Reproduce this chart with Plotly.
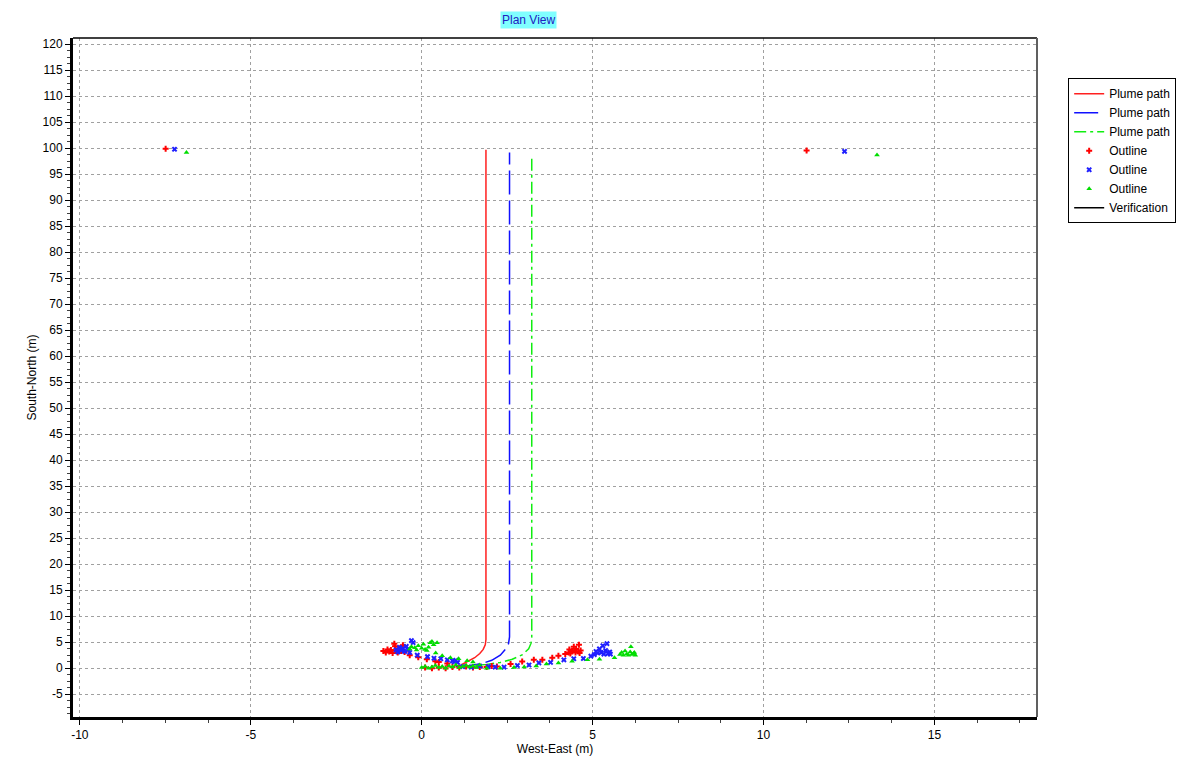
import plotly.graph_objects as go

# Plume centre-line paths (West-East, South-North) in metres
path_red_x = [1.15, 1.38, 1.55, 1.70, 1.80, 1.86, 1.88, 1.88]
path_red_y = [0.6, 1.35, 2.0, 2.8, 3.6, 4.5, 5.5, 99.7]

path_blue_x = [1.0, 1.4, 1.75, 2.05, 2.3, 2.45, 2.54, 2.57, 2.57]
path_blue_y = [0.35, 0.5, 0.85, 1.5, 2.5, 3.6, 4.7, 6.0, 99.2]

path_green_x = [1.1, 1.5, 1.9, 2.3, 2.65, 2.95, 3.13, 3.2, 3.22, 3.22]
path_green_y = [0.3, 0.45, 0.7, 1.1, 1.7, 2.6, 3.7, 4.8, 6.0, 98.6]

# Plume outline points
outline_red_x = [-7.49, 11.26,
                 -1.12, -1.05, -1.0, -0.95, -0.9, -0.85, -0.8, -0.78, -0.75, -0.7, -0.65, -0.6, -0.55, -0.5,
                 -0.35, -0.1, 0.15, 0.4, 0.5, 0.75,
                 0.1, 0.3, 0.5, 0.7, 0.9, 1.1, 1.3, 1.5, 1.7, 1.9, 2.05,
                 2.2, 2.6, 2.94, 3.28, 3.53, 3.82, 4.0, 4.2,
                 4.3, 4.32, 4.35, 4.4, 4.45, 4.5, 4.52, 4.58, 4.62, 4.6, 4.65]
outline_red_y = [99.9, 99.55,
                 3.3, 3.0, 3.6, 3.2, 3.5, 2.9, 4.7, 4.2, 3.4, 3.0, 3.8, 3.3, 4.4, 3.1,
                 2.5, 2.1, 1.7, 1.3, 1.2, 0.9,
                 0.1, 0.0, 0.1, 0.0, 0.2, 0.1, 0.3, 0.1, 0.2, 0.2, 0.4,
                 0.3, 0.8, 1.27, 1.6, 1.6, 2.0, 2.4, 2.7,
                 3.0, 3.6, 2.8, 3.3, 4.1, 3.0, 3.7, 3.2, 2.9, 4.5, 3.4]

outline_blue_x = [-7.23, 12.37,
                  -0.75, -0.7, -0.65, -0.6, -0.55, -0.5, -0.45, -0.4, -0.3, -0.25, -0.35,
                  -0.13, 0.17, 0.36, 0.56, 0.75, 0.9, 0.95, 1.0, 1.05,
                  1.2, 1.45, 1.7, 1.95, 2.15,
                  2.41, 2.8, 3.14, 3.43, 3.77, 4.16, 4.45, 4.73, 4.95,
                  5.05, 5.1, 5.15, 5.2, 5.25, 5.3, 5.33, 5.38, 5.42, 5.45, 5.5, 5.52]
outline_blue_y = [99.8, 99.4,
                  3.5, 3.1, 4.0, 3.4, 3.8, 3.2, 4.2, 3.6, 5.3, 4.9, 3.0,
                  2.5, 2.2, 1.9, 1.8, 1.6, 1.4, 1.2, 1.5, 1.1,
                  0.3, 0.2, 0.4, 0.3, 0.2,
                  0.2, 0.5, 0.6, 1.0, 1.1, 1.6, 1.8, 1.85, 2.3,
                  2.6, 3.2, 2.9, 3.7, 3.0, 4.3, 2.7, 3.4, 4.7, 2.8, 3.1, 2.7]

outline_green_x = [-6.88, 13.32,
                   -0.35, -0.3, -0.2, -0.15, -0.1, 0.0, 0.05, 0.1, 0.2, 0.25, 0.3, 0.35, 0.15, 0.45,
                   0.41, 0.6, 0.84, 1.08, 1.33, 1.5,
                   0.0, 0.1, 0.2, 0.3, 0.4, 0.5, 0.6, 0.7, 0.8, 0.9, 1.0, 1.1, 1.2, 1.3, 1.4, 1.5, 1.6, 1.7,
                   1.9, 2.3, 2.7, 3.0, 3.35, 3.65, 4.0, 4.4, 4.85, 5.2, 5.64,
                   5.8, 5.85, 5.9, 5.95, 6.0, 6.05, 6.1, 6.12, 6.15, 6.2, 6.25, 6.22]
outline_green_y = [99.2, 98.7,
                   3.7, 4.1, 3.9, 3.5, 4.3, 3.8, 4.6, 3.6, 4.0, 4.9, 5.1, 4.5, 3.4, 4.9,
                   2.9, 2.4, 2.0, 1.8, 1.4, 1.2,
                   0.1, 0.3, 0.0, 0.2, 0.5, 0.1, 0.3, 0.0, 0.4, 0.2, 0.6, 0.1, 0.3, 0.5, 0.2, 0.4, 0.1, 0.6,
                   0.0, 0.0, 0.1, 0.2, 0.4, 0.8, 1.0, 1.3, 1.6, 1.7, 2.0,
                   2.6, 3.0, 2.5, 3.3, 2.7, 2.5, 3.1, 4.1, 2.6, 2.8, 2.5, 3.0]

# Axis ticks (labels use a plain hyphen for negatives)
x_ticks = [-10, -5, 0, 5, 10, 15]
y_ticks = [-5, 0, 5, 10, 15, 20, 25, 30, 35, 40, 45, 50, 55, 60,
           65, 70, 75, 80, 85, 90, 95, 100, 105, 110, 115, 120]
x_ticklabels = [str(v) for v in x_ticks]
y_ticklabels = [str(v) for v in y_ticks]

x_range = [-10.2, 18.0]
y_range = [-9.4, 121.2]

FONT = "Liberation Sans"

fig = go.Figure()

fig.add_trace(go.Scatter(x=path_red_x, y=path_red_y, mode="lines", name="Plume path",
                         line=dict(color="#ff2020", width=1.5)))
fig.add_trace(go.Scatter(x=path_blue_x, y=path_blue_y, mode="lines", name="Plume path",
                         line=dict(color="#1010ff", width=1.5, dash="24px,6px")))
fig.add_trace(go.Scatter(x=path_green_x, y=path_green_y, mode="lines", name="Plume path",
                         line=dict(color="#10ee10", width=1.5, dash="12px,4px,3px,4px")))
fig.add_trace(go.Scatter(x=outline_red_x, y=outline_red_y, mode="markers", name="Outline",
                         marker=dict(symbol="cross", size=5, color="#ff0000", line=dict(width=0))))
fig.add_trace(go.Scatter(x=outline_blue_x, y=outline_blue_y, mode="markers", name="Outline",
                         marker=dict(symbol="x", size=5, color="#2020ff", line=dict(width=0))))
fig.add_trace(go.Scatter(x=outline_green_x, y=outline_green_y, mode="markers", name="Outline",
                         marker=dict(symbol="triangle-up", size=5, color="#00dd00", line=dict(width=0))))
fig.add_trace(go.Scatter(x=[None], y=[None], mode="lines", name="Verification",
                         line=dict(color="#000000", width=1.5)))

axis_common = dict(
    automargin=False,
    showgrid=True, gridcolor="#a0a0a0", griddash="3px,3px", gridwidth=1,
    zeroline=False, showline=True, linecolor="#000000", linewidth=3,
    ticks="outside", ticklen=5, tickcolor="#000000", tickwidth=1,
    tickfont=dict(family=FONT, size=12, color="#000000"),
    tickmode="array",
    minor=dict(ticks="outside", ticklen=3, tickmode="linear", tick0=0, dtick=1.25,
               tickcolor="#404040", showgrid=False),
)

fig.update_xaxes(range=x_range, tickvals=x_ticks, ticktext=x_ticklabels,
                 title=dict(text="West-East (m)", font=dict(family=FONT, size=12, color="#000000"),
                            standoff=4),
                 **axis_common)
fig.update_yaxes(range=y_range, tickvals=y_ticks, ticktext=y_ticklabels,
                 title=dict(text="South-North (m)", font=dict(family=FONT, size=12, color="#000000"),
                            standoff=4),
                 **axis_common)

# Top and right frame edges
fig.add_shape(type="line", xref="paper", yref="paper", x0=0, x1=1, y0=1, y1=1,
              line=dict(color="#000000", width=1.5))
fig.add_shape(type="line", xref="paper", yref="paper", x0=1, x1=1, y0=0, y1=1,
              line=dict(color="#606060", width=2))

fig.add_annotation(text="Plan View", xref="paper", yref="paper", x=0.473, y=1.0,
                   yanchor="bottom", yshift=9, showarrow=False,
                   font=dict(family=FONT, size=12, color="#2020c0"),
                   bgcolor="#80ffff", borderpad=1)

fig.update_layout(
    width=1179, height=760,
    margin=dict(l=73, r=142, t=38, b=43, autoexpand=False),
    paper_bgcolor="#ffffff", plot_bgcolor="#ffffff",
    showlegend=True,
    legend=dict(xref="container", yref="container", x=0.906, y=0.897,
                xanchor="left", yanchor="top",
                bordercolor="#000000", borderwidth=1, bgcolor="#ffffff",
                font=dict(family=FONT, size=12, color="#000000"),
                tracegroupgap=0, itemwidth=30),
)

fig.write_html("out.html")
